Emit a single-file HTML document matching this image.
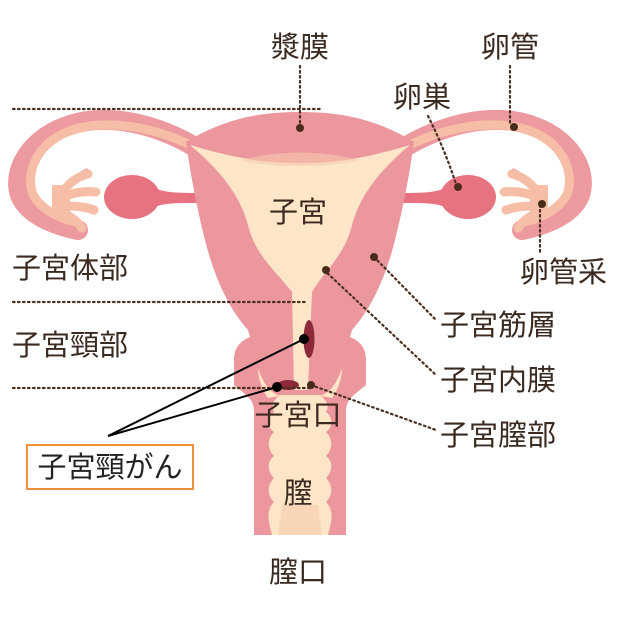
<!DOCTYPE html>
<html><head><meta charset="utf-8"><style>
html,body{margin:0;padding:0;background:#fff;}
svg{display:block}
text{font-family:"Liberation Sans","Noto Sans CJK JP",sans-serif;fill:#3b2a20;font-size:29px;}
</style></head><body>
<svg width="620" height="620" viewBox="0 0 620 620" xmlns="http://www.w3.org/2000/svg">
<!-- tubes -->
<g id="tubeL">
<path d="M200,150 C160,125 110,112 70,125 C30,138 12,170 20,195 C28,215 55,225 78,230" fill="none" stroke="#ec99a0" stroke-width="20" stroke-linecap="round"/>
<path d="M200,150 C160,128 110,118 72,130 C38,142 26,170 32,192 C38,208 58,218 76,222" fill="none" stroke="#f6bea6" stroke-width="9" stroke-linecap="round"/>
<path d="M62,200 C66,185 74,176 88,170" fill="none" stroke="#ec99a0" stroke-width="4"/>
<g stroke="#f6bea6" stroke-width="9" stroke-linecap="round" fill="none">
<path d="M64,190 C72,180 80,176 88,174"/>
<path d="M66,196 C76,192 86,191 96,192"/>
<path d="M66,206 C76,206 86,207 94,210"/>
<path d="M66,214 C72,218 78,222 82,228"/>
</g>
<path d="M52,185 L70,185 L70,222 L52,215Z" fill="#f6bea6"/>
<ellipse cx="132" cy="197" rx="28" ry="22" fill="#e87380"/>
<path d="M150,185 C160,192 170,193 200,193 L200,203 C170,203 160,203 150,210 Z" fill="#e87380"/>
</g>
<use href="#tubeL" transform="translate(600,0) scale(-1,1)"/>
<!-- uterus outer -->
<path d="M186,142 C230,115 270,112 300,112 C330,112 370,115 414,142 C410,170 405,200 395,240 C385,280 370,310 352,330 L350,337 C362,342 366,350 366,360 L366,385 C350,398 347,400 346,410 L346,535 L254,535 L254,410 C253,400 250,398 234,385 L234,360 C234,350 238,342 250,337 L248,330 C230,310 215,280 205,240 C195,200 190,170 186,142 Z" fill="#ec969e"/>
<!-- cavity -->
<path d="M190,145 C240,160 270,163 300,163 C330,163 360,160 410,145 C380,170 360,195 352,225 C345,255 325,270 312,292 L308,390 L294,390 L292,292 C275,270 255,255 248,225 C240,195 220,170 190,145 Z" fill="#fde6c8"/>
<path d="M240,160 C280,150 320,150 360,160 C330,168 270,168 240,160Z" fill="#f7c9ae" opacity="0.6"/>
<!-- fornices -->
<path d="M258,368 C262,380 268,392 280,396 L268,398 C262,390 258,378 258,368Z" fill="#fde6c8"/>
<path d="M342,368 C338,380 332,392 320,396 L332,398 C338,390 342,378 342,368Z" fill="#fde6c8"/>
<!-- vagina interior -->
<path d="M280,395 L320,395 C326,400 330,405 326,412 C334,418 332,428 326,432 C334,440 332,450 326,456 C334,462 332,472 326,478 C334,486 332,496 326,502 C334,510 332,520 328,535 L272,535 C268,520 266,510 274,502 C268,496 266,486 274,478 C268,472 266,462 274,456 C268,450 266,440 274,432 C268,428 266,418 274,412 C270,405 274,400 280,395Z" fill="#fde6c8"/>
<path d="M282,505 L318,505 L322,535 L278,535Z" fill="#f7c9ae" opacity="0.6"/>
<!-- lesions -->
<ellipse cx="309" cy="339" rx="5.5" ry="19" fill="#8c2a3a"/>
<ellipse cx="288" cy="385" rx="11" ry="5" fill="#8c2a3a"/>
<!-- dotted lines -->
<g stroke="#4a3020" stroke-width="2.2" stroke-dasharray="1.6 3.4" stroke-linecap="round" fill="none">
<line x1="13" y1="109" x2="320" y2="109"/>
<line x1="13" y1="302" x2="305" y2="302"/>
<line x1="13" y1="388" x2="310" y2="388"/>
<line x1="300" y1="66" x2="300" y2="126"/>
<line x1="510" y1="66" x2="510" y2="124"/>
<path d="M428,116 C440,140 448,160 456,184"/>
<line x1="540" y1="205" x2="540" y2="252"/>
<line x1="374" y1="257" x2="436" y2="320"/>
<line x1="324" y1="270" x2="436" y2="375"/>
<line x1="311" y1="385" x2="436" y2="430"/>
</g>
<g fill="#4a2a1a">
<circle cx="300" cy="128" r="4"/><circle cx="514" cy="127" r="4"/><circle cx="458" cy="187" r="4"/>
<circle cx="542" cy="204" r="4"/><circle cx="374" cy="257" r="4"/><circle cx="326" cy="270" r="4"/>
<circle cx="311" cy="385" r="4"/>
</g>
<!-- black lines -->
<g stroke="#000" stroke-width="2">
<line x1="108" y1="436" x2="304" y2="339"/>
<line x1="108" y1="436" x2="277" y2="387"/>
</g>
<circle cx="304" cy="339" r="5" fill="#000"/><circle cx="277" cy="387" r="5" fill="#000"/>
<!-- labels -->
<text x="300" y="57" text-anchor="middle">漿膜</text>
<text x="510" y="57" text-anchor="middle">卵管</text>
<text x="422" y="107" text-anchor="middle">卵巣</text>
<text x="298" y="222" text-anchor="middle">子宮</text>
<text x="12" y="278">子宮体部</text>
<text x="12" y="355">子宮頸部</text>
<text x="520" y="282">卵管采</text>
<text x="440" y="335">子宮筋層</text>
<text x="440" y="390">子宮内膜</text>
<text x="440" y="445">子宮膣部</text>
<text x="298" y="425" text-anchor="middle">子宮口</text>
<text x="298" y="503" text-anchor="middle">膣</text>
<text x="298" y="582" text-anchor="middle">膣口</text>
<rect x="27" y="445" width="166" height="44" fill="#fff" stroke="#f0903a" stroke-width="2"/>
<text x="110" y="477" text-anchor="middle" style="fill:#222">子宮頸がん</text>
</svg>
</body></html>
